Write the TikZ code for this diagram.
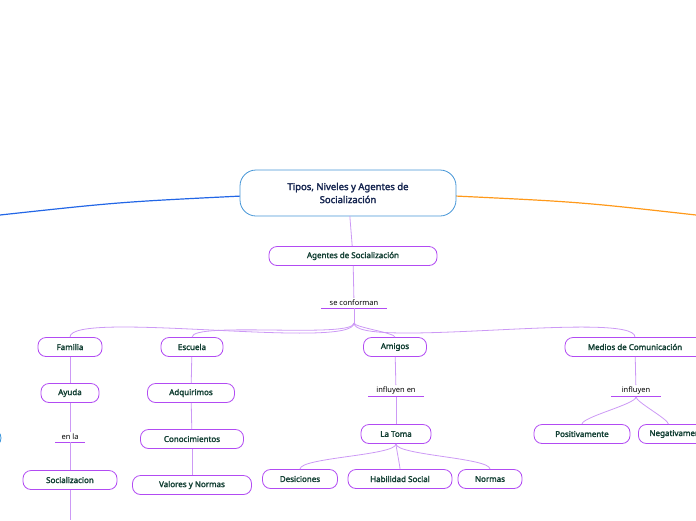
\documentclass[tikz,border=0pt]{standalone}
\usepackage{fontspec}
\setmainfont{Noto Sans}
\newfontfamily\boldnoto{Noto Sans}[FakeBold=2.2]
\usetikzlibrary{positioning}
\definecolor{lila}{HTML}{B24BF3}
\definecolor{lilaline}{HTML}{CC99F5}
\definecolor{txtgreen}{HTML}{123F33}
\definecolor{navy}{HTML}{14244F}
\tikzset{
  topic/.style={draw=lila, line width=0.8pt, rounded corners=8pt, fill=white,
    text=txtgreen, font=\fontsize{8}{10}\selectfont\boldnoto, minimum height=19pt, inner xsep=9pt},
  linker/.style={font=\fontsize{7.5}{10}\selectfont, text=black, inner sep=2pt},
  conn/.style={draw=lilaline, line width=0.8pt},
}
\begin{document}
\begin{tikzpicture}[x=1pt, y=-1pt]
\useasboundingbox (0,0) rectangle (696,520);
\clip (0,0) rectangle (696,520);

% side branches
\draw[color={rgb,255:red,34;green,102;blue,230}, line width=1.2pt] (242,196) .. controls (120,202) .. (0,215);
\draw[color={rgb,255:red,255;green,153;blue,26}, line width=1.2pt] (455,196) .. controls (580,202) .. (696,215);
\draw[color={rgb,255:red,60;green,150;blue,220}, line width=0.8pt] (-8,438) circle (9);

% root
\node[draw={rgb,255:red,70;green,150;blue,215}, line width=0.8pt, rounded corners=16pt, fill=white,
  text=navy, font=\fontsize{9.5}{13}\selectfont\boldnoto, align=center,
  minimum width=216pt, minimum height=46pt] (root) at (348,193) {Tipos, Niveles y Agentes de\\Socialización};

\node[topic, minimum width=168pt] (agentes) at (353,256) {Agentes de Socialización};
\node[linker] (conforman) at (354,303) {se conforman};
\coordinate (split) at (354,323);

\node[topic, minimum width=64pt] (familia) at (70,347) {Familia};
\node[topic, minimum width=62pt] (escuela) at (192,347) {Escuela};
\node[topic, minimum width=63pt] (amigos) at (395,347) {Amigos};
\node[topic, minimum width=140pt] (medios) at (635,347) {Medios de Comunicación};

\node[topic, minimum width=58pt] (ayuda) at (70,393) {Ayuda};
\node[linker] (enla) at (70,437) {en la};
\node[topic, minimum width=94pt] (social) at (70,480) {Socializacion};

\node[topic, minimum width=87pt] (adquirimos) at (191,393) {Adquirimos};
\node[topic, minimum width=103pt] (conoc) at (192,439) {Conocimientos};
\node[topic, minimum width=119pt] (valores) at (192,485) {Valores y Normas};

\node[linker] (influyenen) at (396,391) {influyen en};
\node[topic, minimum width=70pt] (toma) at (396,434) {La Toma};
\node[topic, minimum width=75pt] (desic) at (300,479) {Desiciones};
\node[topic, minimum width=104pt] (habil) at (400,479) {Habilidad Social};
\node[topic, minimum width=64pt] (normas) at (490,479) {Normas};

\node[linker] (influyen) at (636,391) {influyen};
\node[topic, minimum width=96pt] (positiv) at (582,434) {Positivamente};
\node[topic, minimum width=80pt, anchor=west] (negativ) at (638,434) {Negativamente};

% underlines of the linking words
\foreach \n/\w in {conforman/33, enla/15, influyenen/28, influyen/25}
  \draw[lila, line width=1pt] ([xshift=-\w pt]\n.south) -- ([xshift=\w pt]\n.south);

% connectors
\draw[conn] (root) -- (agentes);
\draw[conn] (agentes) -- (conforman);
\draw[conn] (conforman) -- (split);
\foreach \t in {familia, escuela, amigos, medios}
  \draw[conn] (split) to[out=-90, in=90, looseness=0.25] (\t.north);
\draw[conn] (familia) -- (ayuda);
\draw[conn] (ayuda) -- (enla);
\draw[conn] (enla) -- (social);
\draw[conn] (social) -- (70,520);
\draw[conn] (escuela) -- (adquirimos);
\draw[conn] (adquirimos) -- (conoc);
\draw[conn] (conoc) -- (valores);
\draw[conn] (amigos) -- (influyenen);
\draw[conn] (influyenen) -- (toma);
\foreach \t in {desic, habil, normas}
  \draw[conn] (toma.south) to[out=-90, in=90, looseness=0.3] (\t.north);
\draw[conn] (medios) -- (influyen);
\draw[conn] (influyen.south) to[out=-90, in=90, looseness=0.3] (positiv.north);
\draw[conn] (influyen.south) to[out=-90, in=90, looseness=0.3] ([xshift=-10pt]negativ.north);
\end{tikzpicture}
\end{document}
